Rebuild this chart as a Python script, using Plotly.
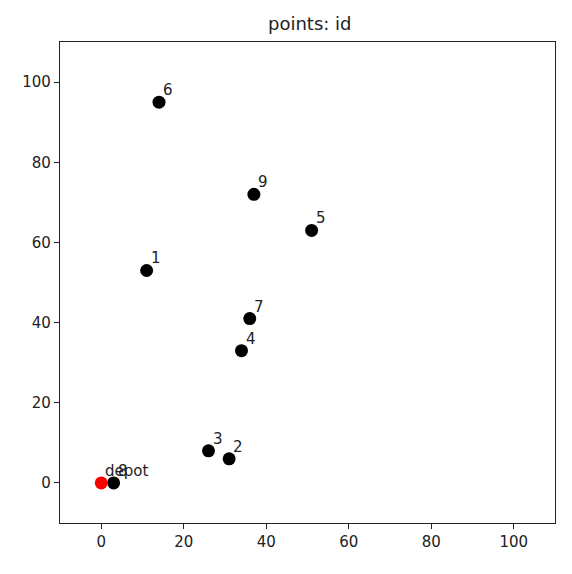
import plotly.graph_objects as go

ids = ["1", "2", "3", "4", "5", "6", "7", "8", "9"]
xs = [11, 31, 26, 34, 51, 14, 36, 3, 37]
ys = [53, 6, 8, 33, 63, 95, 41, 0, 72]
depot_x = [0]
depot_y = [0]
depot_label = ["depot"]
ticks = [0, 20, 40, 60, 80, 100]

fig = go.Figure()
fig.add_trace(go.Scatter(x=xs, y=ys, mode="markers",
                         marker=dict(color="black", size=13), showlegend=False))
fig.add_trace(go.Scatter(x=depot_x, y=depot_y, mode="markers",
                         marker=dict(color="red", size=13), showlegend=False))

for lx, ly, t in list(zip(xs, ys, ids)) + list(zip(depot_x, depot_y, depot_label)):
    fig.add_annotation(x=lx + 1, y=ly + 1, text=t, showarrow=False,
                       xanchor="left", yanchor="bottom", yshift=-3, xshift=-2,
                       font=dict(family="DejaVu Sans", size=15, color="#222"))

axis = dict(range=[-10, 110], tickvals=ticks, showgrid=False, zeroline=False,
            showline=True, linecolor="#222", linewidth=1.2, mirror=True,
            ticks="outside", ticklen=5, tickcolor="#222",
            tickfont=dict(family="DejaVu Sans", size=15, color="#222"))

fig.update_layout(
    width=564, height=566,
    margin=dict(l=52, r=17, t=34, b=51),
    plot_bgcolor="white", paper_bgcolor="white",
    title=dict(text="points: id", x=0.535, xanchor="center", y=0.973, yanchor="middle",
               font=dict(family="DejaVu Sans", size=18, color="#222")),
    xaxis=axis, yaxis=axis,
)
fig.write_html("out.html")
